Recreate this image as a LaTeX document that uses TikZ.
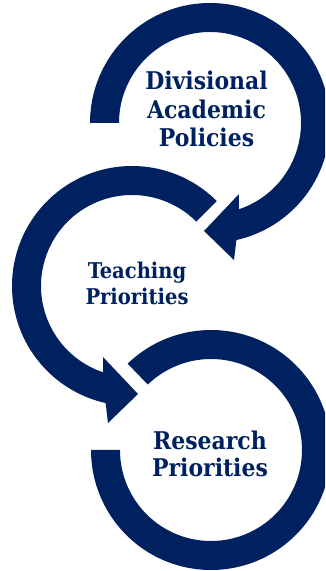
\documentclass[tikz,border=0pt]{standalone}
\usepackage{fontspec}
\setmainfont{DejaVu Serif Condensed}
\usepackage{tikz}
\usepackage{xcolor}
\definecolor{navy}{RGB}{0,33,96}

\begin{document}
\begin{tikzpicture}[x=1pt,y=1pt,
        ringfill/.style={fill=navy},
        ringtext/.style={text=navy,align=center,inner sep=0pt,anchor=base}]
        \useasboundingbox (0,0) rectangle (325,571);
        \clip (0,0) rectangle (325,571);

        \coordinate (c1) at (210,448);% ring centres
        \coordinate (c2) at (132,285);
        \coordinate (c3) at (211,121);

        % top ring, clockwise, arrow into the middle ring
        \fill[ringfill] ([shift={(180:120)}]c1) arc[start angle=180,end angle=-77.3,radius=120]
            -- ([shift={(24,-137)}]c1) -- ([shift={(-6,-108)}]c1) -- ([shift={(29,-71)}]c1)
            -- ([shift={(-71.5:91)}]c1) arc[start angle=-71.5,end angle=180,radius=91] -- cycle;

        % middle ring, anticlockwise, arrow into the bottom ring
        \fill[ringfill] ([shift={(45:120)}]c2) arc[start angle=45,end angle=257.3,radius=120]
            -- ([shift={(-24,-137)}]c2) -- ([shift={(6,-108)}]c2) -- ([shift={(-29,-71)}]c2)
            -- ([shift={(251.5:91)}]c2) arc[start angle=251.5,end angle=45,radius=91] -- cycle;

        % bottom ring, no arrow
        \fill[ringfill] ([shift={(134:120)}]c3) arc[start angle=134,end angle=-180,radius=120]
            -- ([shift={(180:91)}]c3) arc[start angle=-180,end angle=134,radius=91] -- cycle;

        \node[ringtext,font=\bfseries\fontsize{24.4}{28.5}\selectfont] (policies) at (206.5,424) {Divisional\\Academic\\Policies};
        \node[ringtext,font=\bfseries\fontsize{21.7}{26}\selectfont] (teaching) at (137,266) {Teaching\\Priorities};
        \node[ringtext,font=\bfseries\fontsize{24.4}{27}\selectfont] (research) at (210,94) {Research\\Priorities};
    \end{tikzpicture}
\end{document}
